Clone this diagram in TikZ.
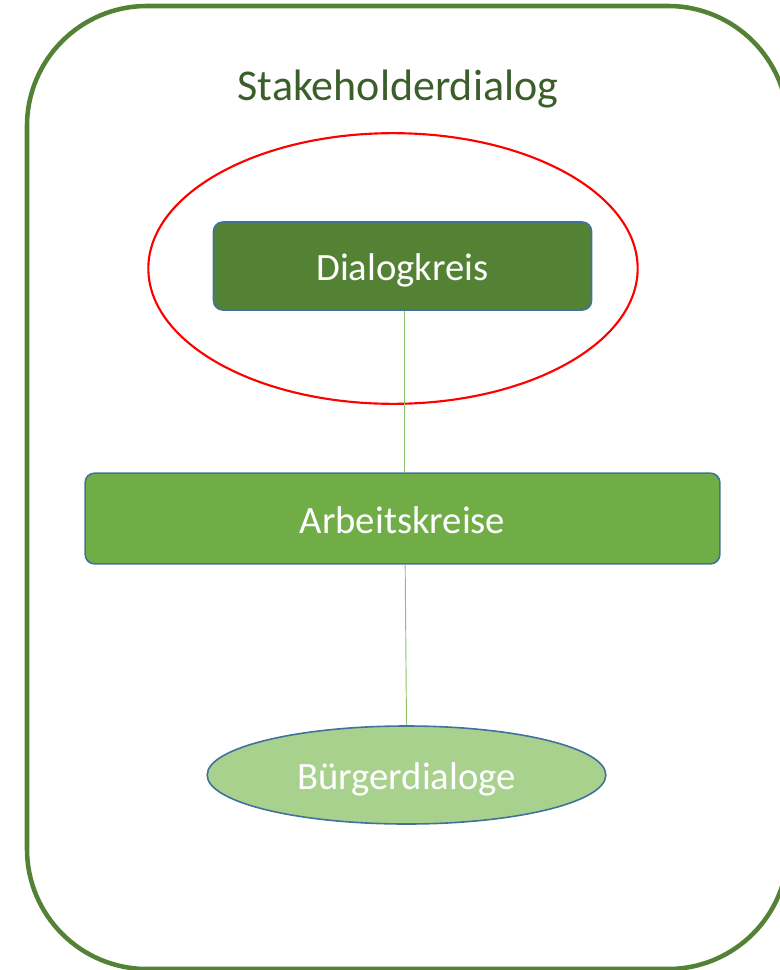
\documentclass[tikz,border=0pt]{standalone}
\usepackage{fontspec}
\setmainfont{Carlito}
\usetikzlibrary{shapes.geometric}
\definecolor{framegreen}{HTML}{548235}
\definecolor{titlegreen}{HTML}{3B5E2B}
\definecolor{darkfill}{HTML}{548235}
\definecolor{midfill}{HTML}{70AD47}
\definecolor{lightfill}{HTML}{A9D18E}
\definecolor{edgeblue}{HTML}{41719C}
\definecolor{linkgreen}{HTML}{8CC26A}
\tikzset{
  levelbox/.style={draw=edgeblue, line width=1.2pt, rounded corners=7pt,
    text=white, font=\fontsize{29}{35}\selectfont, inner sep=0pt},
  levelellipse/.style={ellipse, draw=edgeblue, line width=1.2pt,
    fill=lightfill, text=white, font=\fontsize{29}{35}\selectfont, inner sep=0pt},
  link/.style={draw=linkgreen, line width=0.7pt}
}
\begin{document}
\begin{tikzpicture}[x=0.75pt,y=-0.75pt]
  \useasboundingbox (0,0) rectangle (780,970);
  \clip (0,0) rectangle (780,970);
  % outer frame
  \draw[framegreen, line width=3.4pt, rounded corners=90pt] (27,6) rectangle (788,969);
  \node[text=titlegreen, font=\fontsize{33}{39}\selectfont] (title) at (398,89) {Stakeholderdialog};
  % levels
  \node[levelbox, fill=darkfill, minimum width=283.5pt, minimum height=66pt,
        text height=22pt, text depth=0.5pt] (dk) at (402.5,266) {Dialogkreis};
  \node[levelbox, fill=midfill, minimum width=476pt, minimum height=68pt,
        text height=23pt, text depth=0pt] (ak) at (402.5,518.5) {Arbeitskreise};
  \node[levelellipse, minimum width=299pt, minimum height=73.5pt,
        text height=22pt, text depth=0.5pt] (bd) at (406.5,775) {Bürgerdialoge};
  % highlight around the top level
  \node[ellipse, draw=red, line width=1.6pt, minimum width=367pt, minimum height=203pt, inner sep=0pt] (hl) at (393,268.5) {};
  % connectors
  \draw[link] ([xshift=1.1pt]dk.south) -- ([xshift=1.1pt]ak.north);
  \draw[link] ([xshift=2pt]ak.south) -- (bd.north);
\end{tikzpicture}
\end{document}
